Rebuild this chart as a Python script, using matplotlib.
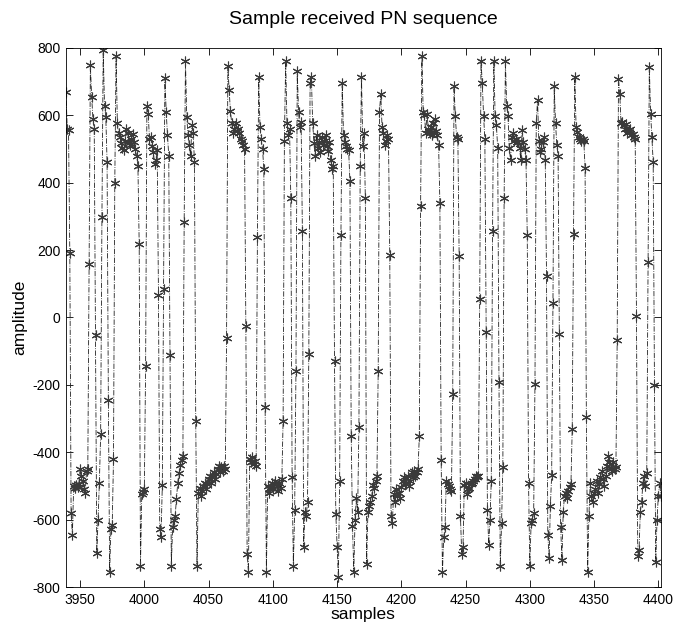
import matplotlib
matplotlib.use("Agg")
import matplotlib.pyplot as plt
import numpy as np

plt.rcParams['font.family'] = ['Liberation Sans', 'DejaVu Sans']
plt.rcParams['axes.unicode_minus'] = False

# received samples (first sample index 3939)
first_sample = 3939
amplitude = [
    670,
    560, 555, 190, -580, -645, -500, -505, -498, -502, -495,
    -450, -470, -485, -510, -520, -455, -450, 160, 748, 654,
    590, 560, -51, -700, -600, -490, -347, 298, 794, 628,
    596, 462, -244, -754, -628, -616, -421, 399, 777, 576,
    548, 536, 519, 502, 496, 525, 559, 548, 519, 513,
    530, 545, 520, 500, 479, 450, 217, -737, -525, -519,
    -508, -143, 628, 605, 530, 536, 510, 490, 456, 467,
    496, 66, -628, -651, -496, 83, 711, 611, 542, 479,
    -111, -737, -622, -600, -588, -540, -490, -462, -439, -422,
    -410, 284, 762, 594, 542, 513, 479, 570, 548, 462,
    -307, -737, -520, -505, -530, -515, -500, -490, -510, -495,
    -480, -470, -490, -475, -460, -480, -465, -450, -440, -460,
    -445, -455, -440, -450, -60, 745, 675, 612, 576, 548,
    559, 576, 553, 560, 548, 530, 525, 513, 500, -26,
    -703, -754, -420, -430, -415, -435, -425, -440, 238, 714,
    565, 530, 500, 439, -267, -754, -500, -520, -505, -490,
    -510, -495, -485, -500, -515, -490, -505, -480, -307, 525,
    760, 576, 542, 560, 353, -473, -737, -570, -160, 731,
    611, 565, 580, 255, -680, -576, -588, -548, -110, 697,
    714, 576, 519, 479, 542, 502, 520, 490, 536, 513,
    525, 540, 510, 495, 520, 467, 439, 450, -129, -582,
    -680, -771, -485, 244, 697, 542, 520, 508, 500, 496,
    404, -353, -620, -754, -600, -536, -576, -324, 450, 714,
    508, 548, 353, -731, -576, -560, -548, -530, -496, -505,
    -485, -470, -160, 611, 662, 565, 548, 513, 525, 542,
    530, 186, -588, -611, -525, -548, -508, -530, -520, -535,
    -502, -485, -473, -490, -495, -470, -500, -485, -460, -475,
    -455, -470, -460, -450, -353, 330, 777, 611, 600, 548,
    605, 560, 548, 565, 542, 576, 590, 553, 540, 513,
    341, -422, -755, -651, -622, -485, -495, -500, -508, -515,
    -227, 686, 599, 536, 530, 181, -588, -703, -680, -496,
    -490, -525, -510, -505, -495, -490, -485, -479, -470, -475,
    -470, 54, 760, 697, 599, 530, -43, -570, -674, -600,
    -485, 255, 760, 599, 570, 502, -193, -737, -611, -445,
    353, 760, 628, 599, 502, 467, 536, 548, 525, 530,
    520, 520, 502, 467, 555, 520, 500, 467, 244, -490,
    -737, -611, -600, -580, -199, 576, 645, 525, 490, 500,
    520, 535, 467, 123, -645, -714, -560, -467, 43, 686,
    576, 513, 479, -49, -622, -720, -576, -530, -520, -535,
    -515, -502, -495, -330, 249, 714, 565, 550, 536, 530,
    525, 530, 525, 444, -295, -754, -588, -490, -530, -548,
    -520, -508, -485, -520, -495, -473, -456, -480, -500, -470,
    -440, -410, -430, -450, -455, -430, -450, -445, -66, 708,
    662, 576, 580, 570, 560, 575, 548, 555, 560, 540,
    545, 535, 530, 3, -708, -691, -576, -548, -490, -470,
    -500, -462, 163, 743, 605, 536, 462, -200, -725, -600,
    -530, -490, -530,
]
samples = np.arange(first_sample, first_sample + len(amplitude))

x_ticks = [3950, 4000, 4050, 4100, 4150, 4200, 4250, 4300, 4350, 4400]
y_ticks = [-800, -600, -400, -200, 0, 200, 400, 600, 800]

fig = plt.figure(figsize=(6.73, 6.31), dpi=100)
ax = fig.add_axes([0.098, 0.0697, 0.884, 0.8545])

# dash-dot line first, asterisk markers on top (MATLAB style '*-.')
ax.plot(samples, amplitude, color='#202020', linestyle='-.', linewidth=0.6)
ax.plot(samples, amplitude, linestyle='none', marker=(6, 2, 0),
        markersize=7, markeredgewidth=0.8, color='#3a3a3a')

ax.set_xlim(first_sample, samples[-1])
ax.set_ylim(-800, 800)
ax.set_xticks(x_ticks)
ax.set_yticks(y_ticks)
ax.tick_params(direction='in', top=True, right=True, length=5, width=0.6,
               labelsize=10, pad=4)
for s in ax.spines.values():
    s.set_linewidth(0.6)

ax.set_title('Sample received PN sequence', fontsize=14, pad=17)
ax.set_xlabel('samples', fontsize=12.5, labelpad=0)
ax.set_ylabel('amplitude', fontsize=12.5, labelpad=4)

fig.savefig('out.png', dpi=100)
